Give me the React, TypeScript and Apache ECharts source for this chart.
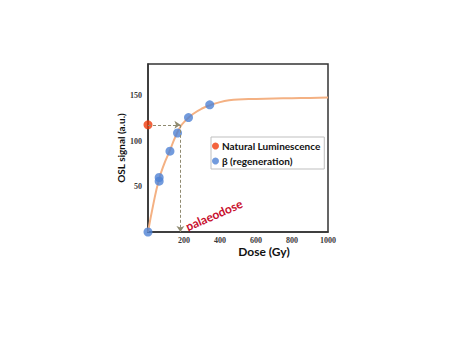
import React, { useEffect, useRef } from "react";
import * as echarts from "echarts";

const xTicks = [200, 400, 600, 800, 1000];
const yTicks = [50, 100, 150];
const naturalPoint: [number, number][] = [[0, 118]];
const regenPoints: [number, number][] = [
  [0, 0],
  [62, 60],
  [62, 56],
  [122, 89],
  [164, 109],
  [225, 126],
  [343, 140],
];
const curveDose = [0, 30, 60, 90, 120, 150, 180, 210, 250, 300, 350, 400, 450, 500, 600, 700, 800, 900, 1000];
const curveSignal = [0, 31, 57, 75, 89, 104, 116, 123, 130, 136, 140, 143, 145, 146, 146.5, 147, 147.3, 147.6, 148];
const palaeodose = 180;
const naturalSignal = 118;

export default function App() {
  const ref = useRef<HTMLDivElement>(null);
  useEffect(() => {
    if (!ref.current) return;
    const chart = echarts.init(ref.current, null, { renderer: "svg" });
    const tickFont = {
      fontFamily: "Liberation Serif",
      fontWeight: "bold" as const,
      fontSize: 8,
      color: "#3a3a3a",
    };
    chart.setOption({
      animation: false,
      grid: {
        left: 148,
        top: 64,
        right: 146,
        bottom: 123,
        show: true,
        borderColor: "#333",
        borderWidth: 1.5,
        backgroundColor: "#fff",
      },
      xAxis: {
        type: "value",
        min: 0,
        max: 1000,
        interval: 200,
        axisLine: { show: true, lineStyle: { color: "#333", width: 1.5 } },
        axisTick: { show: false },
        splitLine: { show: false },
        axisLabel: {
          ...tickFont,
          margin: 4,
          formatter: (v: number) => (xTicks.includes(v) ? String(v) : ""),
        },
      },
      yAxis: {
        type: "value",
        min: 0,
        max: 185,
        interval: 50,
        name: "OSL signal (a.u.)",
        nameLocation: "middle",
        nameGap: 22,
        nameTextStyle: {
          fontFamily: "Lato",
          fontWeight: "bold",
          fontSize: 10,
          color: "#111",
        },
        axisLine: { show: true, lineStyle: { color: "#333", width: 1.5 } },
        axisTick: { show: false },
        splitLine: { show: false },
        axisLabel: {
          ...tickFont,
          margin: 6,
          formatter: (v: number) => (yTicks.includes(v) ? String(v) : ""),
        },
      },
      legend: {
        left: 211,
        top: 137,
        orient: "vertical",
        data: ["Natural Luminescence", "β (regeneration)"],
        backgroundColor: "#fff",
        borderColor: "#bfbfbf",
        borderWidth: 1,
        padding: [4, 4, 3, 1],
        itemGap: 5,
        itemWidth: 7,
        itemHeight: 7,
        icon: "circle",
        textStyle: {
          fontFamily: "Lato",
          fontWeight: "bold",
          fontSize: 10,
          color: "#111",
          padding: [0, 0, 0, -2],
        },
      },
      graphic: [
        {
          type: "text",
          x: 264,
          y: 251,
          style: {
            text: "Dose (Gy)",
            fontFamily: "Lato",
            fontWeight: "bold",
            fontSize: 12,
            fill: "#111",
            align: "center",
            verticalAlign: "middle",
          },
        },
        {
          type: "text",
          x: 214,
          y: 215,
          rotation: 0.41,
          style: {
            text: "palaeodose",
            fontFamily: "Lato",
            fontWeight: "bold",
            fontSize: 12,
            fill: "#c8102e",
            align: "center",
            verticalAlign: "middle",
          },
        },
      ],
      series: [
        {
          name: "curve",
          type: "line",
          data: curveDose.map((d, i) => [d, curveSignal[i]]),
          smooth: true,
          showSymbol: false,
          lineStyle: { color: "#f4b183", width: 2 },
          z: 1,
          markLine: {
            silent: true,
            symbol: ["none", "arrow"],
            symbolSize: [6, 6],
            lineStyle: { color: "#8f8a70", type: [3, 2], width: 1 },
            label: { show: false },
            data: [
              [{ coord: [0, naturalSignal] }, { coord: [palaeodose, naturalSignal] }],
              [{ coord: [palaeodose, naturalSignal] }, { coord: [palaeodose, 0] }],
            ],
          },
        },
        {
          name: "Natural Luminescence",
          type: "scatter",
          data: naturalPoint,
          symbolSize: 9,
          itemStyle: { color: "#f03c0c" },
          clip: false,
          z: 3,
        },
        {
          name: "β (regeneration)",
          type: "scatter",
          data: regenPoints,
          symbolSize: 9,
          itemStyle: { color: "#4f82d4" },
          clip: false,
          z: 3,
        },
      ],
    });
    return () => chart.dispose();
  }, []);
  return (
    <div
      ref={ref}
      style={{ position: "fixed", left: 0, top: 0, width: 474, height: 355, background: "#fff" }}
    />
  );
}
